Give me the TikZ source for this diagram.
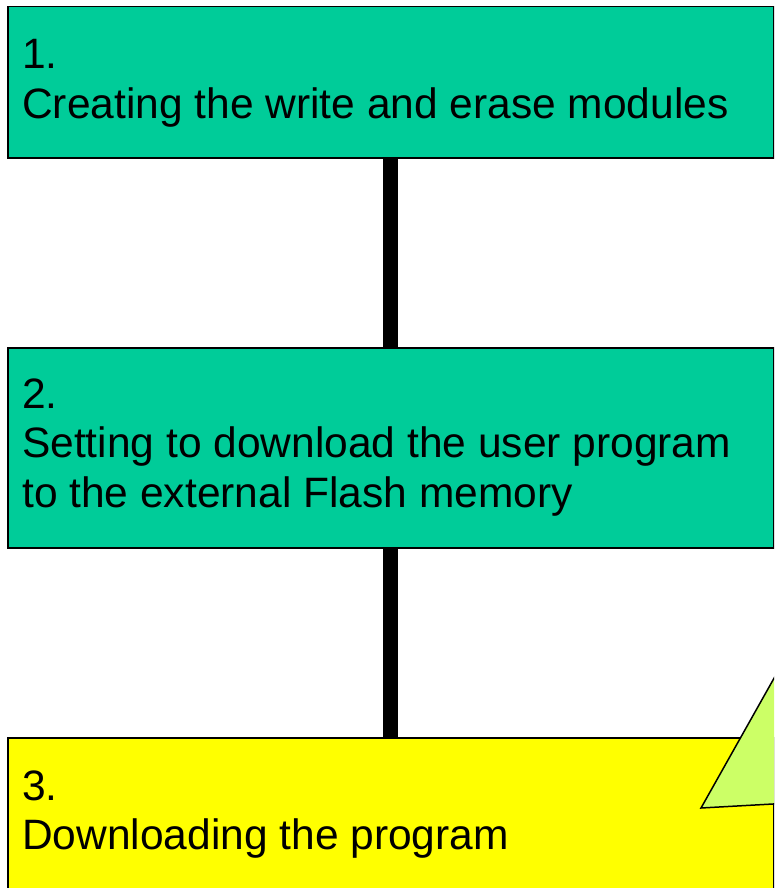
\documentclass[tikz,border=0pt]{standalone}
\usepackage{fontspec}
\setmainfont{Liberation Sans}
\definecolor{teal1}{HTML}{00CC99}
\definecolor{yel1}{HTML}{FFFF00}
\definecolor{lime1}{HTML}{CCFF66}
\begin{document}
\begin{tikzpicture}[x=1pt,y=-1pt,
  stepbox/.style={draw=black, line width=1.5pt, minimum width=766pt, anchor=north west, inner sep=0pt},
  txt/.style={anchor=base west, inner sep=0pt, font=\fontsize{42.5}{50}\selectfont},
  link/.style={line width=15pt, black}]
\useasboundingbox (0,0) rectangle (774,888);
\clip (0,0) rectangle (774,888);
\node[stepbox, fill=teal1, minimum height=151pt] (b1) at (7,6) {};
\node[stepbox, fill=teal1, minimum height=200pt] (b2) at (7,347) {};
\node[stepbox, fill=yel1, minimum height=170pt] (b3) at (7,737) {};
\draw[link] (b1.south) -- (b2.north);
\draw[link] (b2.south) -- (b3.north);
\node[txt] (t1a) at (22,69) {1.};
\node[txt] (t1b) at (22,119) {Creating the write and erase modules};
\node[txt] (t2a) at (22,408) {2.};
\node[txt] (t2b) at (22,457) {Setting to download the user program};
\node[txt] (t2c) at (22,507) {to the external Flash memory};
\node[txt] (t3a) at (22,800) {3.};
\node[txt] (t3b) at (22,849) {Downloading the program};
\draw[fill=lime1, line width=1.5pt, line join=miter] (701,808) -- (787.4,654.4) -- (800,802.5) -- cycle;
\end{tikzpicture}
\end{document}
